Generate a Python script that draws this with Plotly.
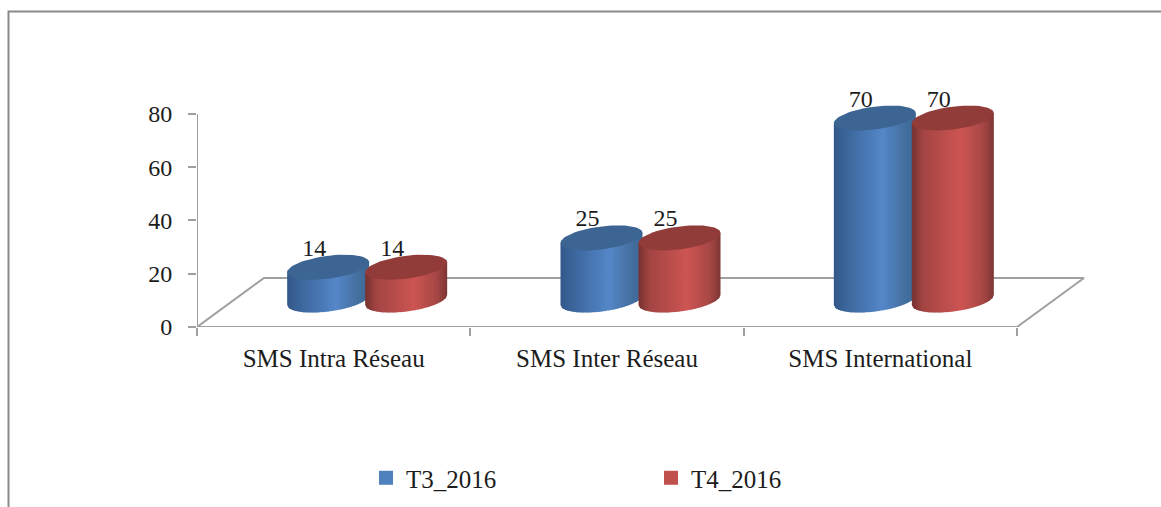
import numpy as np
import plotly.graph_objects as go

categories = ["SMS Intra Réseau", "SMS Inter Réseau", "SMS International"]
t3_2016 = [14, 25, 70]
t4_2016 = [14, 25, 70]
y_ticks = [0, 20, 40, 60, 80]
series_names = ["T3_2016", "T4_2016"]

W, H = 1161, 507
PX_X = 820 / 3          # pixels per category
PX_Y = 213 / 80         # pixels per unit of value
Y_MAX = 95              # head-room so the tall cylinders are not clipped
L, R, B = 197, 76, 180
T = H - B - Y_MAX * PX_Y
SERIF = "Liberation Serif"
INK = "#1c1c1c"
AXIS = "#a0a0a0"

DEPTH_X = 67 / PX_X     # floor depth expressed in axis units
DEPTH_Y = 49 / PX_Y
HALF_W = 41 / PX_X
SHIFT = 39 / PX_X
B_Y = 11.5 / PX_Y       # ellipse half height
K_Y = 5 / PX_Y          # ellipse tilt
BASE_Y = 27 / PX_Y      # cylinders stand in the middle of the floor
FORESHORTEN = 4.5 / PX_Y
N = 36

BLUE = dict(stops=[(0, "#33598a"), (0.12, "#3b659a"), (0.58, "#5587c9"), (0.85, "#44709f"), (1, "#3c6595")],
            top="#3d6593", legend="#4f81bd")
RED = dict(stops=[(0, "#7a3431"), (0.12, "#a34543"), (0.58, "#cd5553"), (0.85, "#a84846"), (1, "#7a3432")],
           top="#923c39", legend="#c0504d")


def hex2rgb(h):
    return np.array([int(h[i:i + 2], 16) for i in (1, 3, 5)], float)


def shade(stops, u):
    xs = [s[0] for s in stops]
    cs = np.array([hex2rgb(s[1]) for s in stops])
    return "rgb(%d,%d,%d)" % tuple(np.interp(u, xs, cs[:, i]) for i in range(3))


fig = go.Figure()

# legend entries
for name, st in zip(series_names, (BLUE, RED)):
    fig.add_trace(go.Scatter(x=[None], y=[None], mode="markers", name=name,
                             marker=dict(symbol="square", size=14, color=st["legend"], line=dict(width=0))))

# 3-D floor outline and value axis line
fig.add_trace(go.Scatter(x=[0, DEPTH_X, 3 + DEPTH_X, 3, 0], y=[0, DEPTH_Y, DEPTH_Y, 0, 0],
                         mode="lines", line=dict(color=AXIS, width=2), showlegend=False,
                         hoverinfo="skip", cliponaxis=False))
fig.add_trace(go.Scatter(x=[0, 0], y=[y_ticks[0], y_ticks[-1]],
                         mode="lines", line=dict(color=AXIS, width=2), showlegend=False,
                         hoverinfo="skip", cliponaxis=False))

centers = {}
for s, (vals, off) in enumerate(((t3_2016, -SHIFT), (t4_2016, SHIFT))):
    xs = [i + 0.5 + DEPTH_X / 2 + off for i in range(3)]
    centers[s] = xs
    fig.add_trace(go.Scatter(x=[x - 14 / PX_X for x in xs], y=[v + 40 / PX_Y for v in vals],
                             mode="text", text=[str(v) for v in vals],
                             textfont=dict(family=SERIF, size=24, color=INK),
                             showlegend=False, hoverinfo="skip", cliponaxis=False))


def edge(u):
    return K_Y * u - B_Y * np.sqrt(np.clip(1 - u ** 2, 0, 1))


def add_cylinder(cx, value, st):
    bottom, top = BASE_Y, BASE_Y + value - FORESHORTEN
    us = np.linspace(-1, 1, N + 1)
    for a, b in zip(us[:-1], us[1:]):
        seg = np.linspace(a, min(b + 0.02, 1), 3)
        x = cx + HALF_W * seg
        y0 = bottom + edge(seg)
        y1 = top + K_Y * seg
        fig.add_trace(go.Scatter(x=np.r_[x, x[::-1]], y=np.r_[y0, y1[::-1]], mode="lines",
                                 fill="toself", fillcolor=shade(st["stops"], (a + 1) / 2),
                                 line=dict(width=0), showlegend=False, hoverinfo="skip", cliponaxis=False))
    t = np.linspace(0, 2 * np.pi, 73)
    fig.add_trace(go.Scatter(x=cx + HALF_W * np.cos(t), y=top + K_Y * np.cos(t) + B_Y * np.sin(t),
                             mode="lines", fill="toself", fillcolor=st["top"],
                             line=dict(width=0), showlegend=False, hoverinfo="skip", cliponaxis=False))


for i in range(3):
    add_cylinder(centers[0][i], t3_2016[i], BLUE)
    add_cylinder(centers[1][i], t4_2016[i], RED)


def px(xp):
    return (xp - L) / (W - L - R)


def py(yp):
    return (H - B - yp) / (H - T - B)


border = "M %f %f L %f %f L %f %f" % (px(8.5), py(510), px(8.5), py(11.5), px(1165), py(11.5))

fig.update_layout(
    width=W, height=H, autosize=False,
    margin=dict(l=L, r=R, t=T, b=B, autoexpand=False),
    paper_bgcolor="white", plot_bgcolor="rgba(0,0,0,0)",
    showlegend=True,
    legend=dict(orientation="h", x=px(366), y=py(455), xanchor="left", yanchor="top",
                entrywidth=240, entrywidthmode="pixels", itemclick=False, itemdoubleclick=False,
                font=dict(family=SERIF, size=25, color=INK), bgcolor="rgba(0,0,0,0)", traceorder="normal"),
    xaxis=dict(range=[0, (W - L - R) / PX_X], showgrid=False, zeroline=False, showline=False,
               tickmode="array", tickvals=[0.5, 1.5, 2.5], ticktext=categories, ticks="",
               ticklabelstandoff=14,
               tickfont=dict(family=SERIF, size=25, color=INK),
               minor=dict(tickmode="array", tickvals=[0, 1, 2, 3], ticks="outside", ticklen=8,
                          tickwidth=2, tickcolor=AXIS, showgrid=False)),
    yaxis=dict(range=[0, Y_MAX], tickmode="array", tickvals=y_ticks, showgrid=False, zeroline=False,
               showline=False, ticks="outside", ticklen=8, tickwidth=2,
               tickcolor=AXIS, ticklabelstandoff=11,
               tickfont=dict(family=SERIF, size=24, color=INK)),
    shapes=[dict(type="path", path=border, xref="paper", yref="paper",
                 line=dict(color="#8a8a8a", width=2), layer="below")],
)

fig.write_html("out.html", config={"displayModeBar": False},
               post_script="document.body.style.margin='0';")
